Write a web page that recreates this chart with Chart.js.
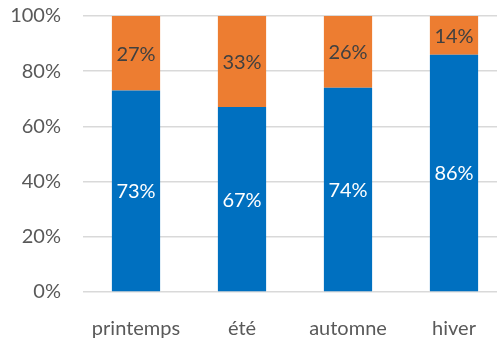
<!DOCTYPE html>
<html>
<head>
<meta charset="utf-8">
<script src="https://cdn.jsdelivr.net/npm/chart.js@4"></script>
<style>
  html, body { margin: 0; padding: 0; background: #fff; overflow: hidden; }
  #wrap { width: 507px; height: 338px; }
</style>
</head>
<body>
<div id="wrap"><canvas id="myChart"></canvas></div>
<script>
// saisons et parts (en %)
var saisons = ['printemps', 'été', 'automne', 'hiver'];
var partBleue = [73, 67, 74, 86];
var partOrange = [27, 33, 26, 14];
var yTicks = [0, 20, 40, 60, 80, 100];

// étiquettes au centre de chaque segment
var centreLabels = {
    id: 'centreLabels',
    afterDatasetsDraw: function (chart) {
        var ctx = chart.ctx;
        ctx.save();
        ctx.font = '20px Lato';
        ctx.textAlign = 'center';
        ctx.textBaseline = 'middle';
        chart.data.datasets.forEach(function (ds, i) {
            var meta = chart.getDatasetMeta(i);
            meta.data.forEach(function (bar, j) {
                var p = bar.getProps(['x', 'y', 'base'], true);
                ctx.fillStyle = ds.labelColor;
                ctx.fillText(ds.data[j] + '%', p.x, (p.y + p.base) / 2 + 1);
            });
        });
        ctx.restore();
    }
};

new Chart(document.getElementById('myChart'), {
    type: 'bar',
    data: {
        labels: saisons,
        datasets: [{
            data: partBleue,
            backgroundColor: '#0070c0',
            labelColor: '#ffffff'
        }, {
            data: partOrange,
            backgroundColor: '#ed7d31',
            labelColor: '#404040'
        }]
    },
    plugins: [centreLabels],
    options: {
        responsive: true,
        maintainAspectRatio: false,
        animation: false,
        layout: { padding: { top: 16, left: 0, right: 0, bottom: 0 } },
        plugins: {
            legend: { display: false },
            tooltip: { enabled: false }
        },
        datasets: {
            bar: { barPercentage: 0.455, categoryPercentage: 1.0 }
        },
        scales: {
            x: {
                stacked: true,
                grid: { display: false },
                border: { display: false },
                ticks: {
                    color: '#595959',
                    font: { family: 'Lato', size: 20 },
                    padding: 17
                },
                afterFit: function (scale) { scale.height = 46; }
            },
            y: {
                stacked: true,
                min: 0,
                max: 100,
                afterBuildTicks: function (scale) {
                    scale.ticks = yTicks.map(function (v) { return { value: v }; });
                },
                grid: { color: '#d9d9d9', lineWidth: 1.5, drawTicks: false },
                border: { display: false },
                ticks: {
                    color: '#595959',
                    font: { family: 'Lato', size: 20 },
                    padding: 22,
                    callback: function (v) { return v + '%'; }
                },
                afterFit: function (scale) {
                    scale.width = 83;
                    scale.paddingTop = 0;
                }
            }
        }
    }
});
</script>
</body>
</html>
